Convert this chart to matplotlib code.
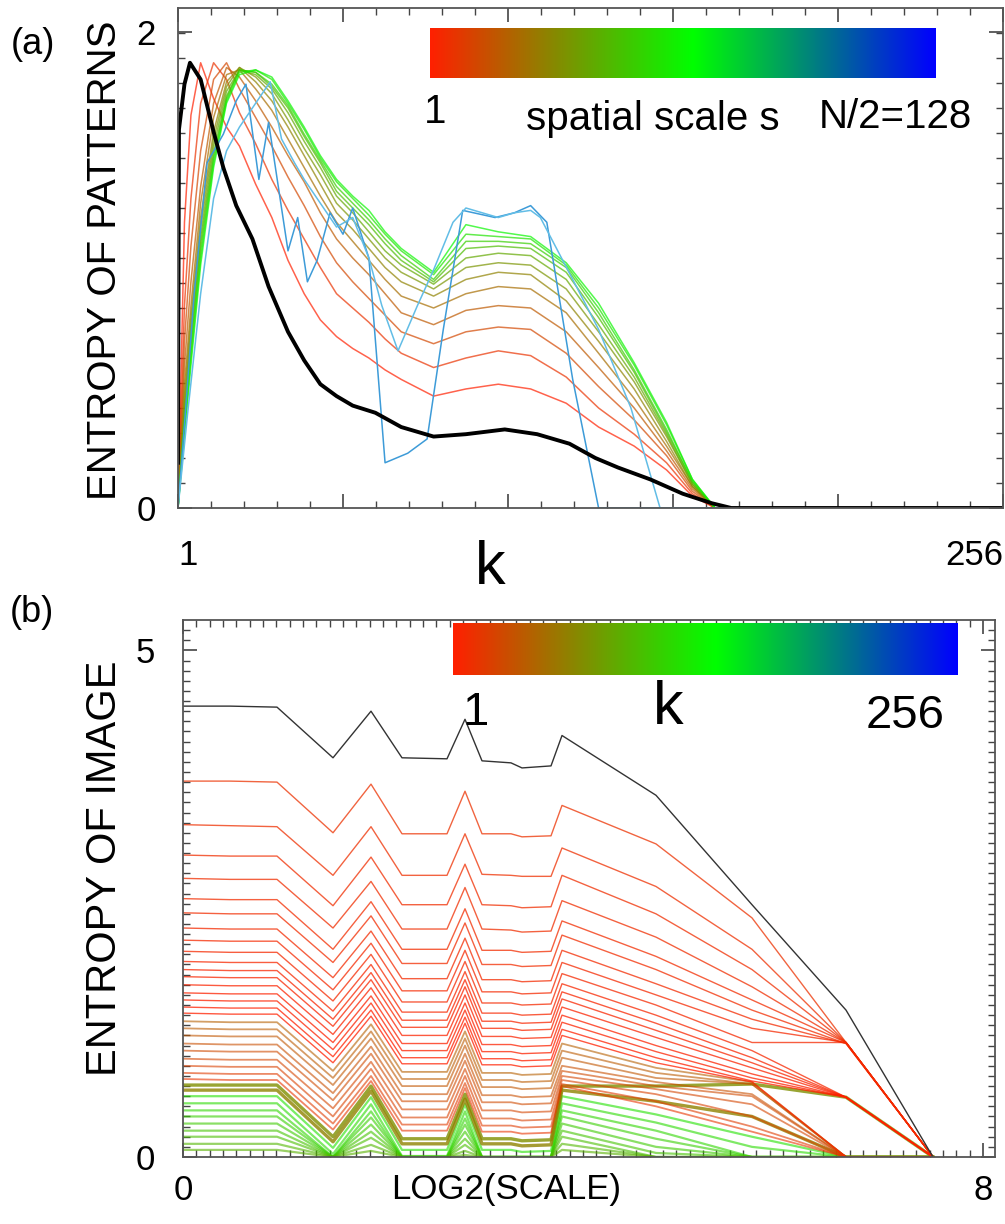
import numpy as np
import matplotlib
matplotlib.use("Agg")
import matplotlib.pyplot as plt
from matplotlib.colors import LinearSegmentedColormap
from matplotlib.ticker import FixedLocator, FixedFormatter

plt.rcParams['font.family'] = ['Liberation Sans', 'DejaVu Sans']

W, H = 1005, 1224

# ---------------- panel (a): entropy of patterns vs k ----------------
k_black = [1, 1.3, 3, 4.7, 8, 12, 15, 19, 24, 29, 35, 40, 45, 50, 55, 62, 70, 80, 90,
           102, 112, 122, 130, 137, 147, 157, 166, 172, 256]
h_black = [0.19, 1.59, 1.78, 1.87, 1.80, 1.58, 1.43, 1.27, 1.13, 0.93, 0.74, 0.62, 0.52,
           0.47, 0.43, 0.40, 0.34, 0.30, 0.31, 0.33, 0.31, 0.27, 0.21, 0.17, 0.12, 0.06,
           0.02, 0.0, 0.0]

k_family = [1, 3, 5, 8, 12, 16, 20, 25, 30, 35, 40, 45, 50, 55, 60, 65, 70, 80, 90, 100,
            110, 121, 131, 142, 152, 160, 167, 256]
h_s01 = [0, 1.20, 1.65, 1.87, 1.72, 1.60, 1.52, 1.36, 1.22, 1.04, 0.90, 0.79, 0.72, 0.67, 0.63, 0.58, 0.54, 0.47, 0.50, 0.52, 0.50, 0.44, 0.34, 0.26, 0.16, 0.05, 0, 0]
h_s02 = [0, 0.85, 1.30, 1.70, 1.87, 1.80, 1.66, 1.53, 1.38, 1.25, 1.13, 1.01, 0.90, 0.84, 0.78, 0.71, 0.65, 0.59, 0.63, 0.66, 0.64, 0.55, 0.42, 0.31, 0.19, 0.06, 0, 0]
h_s03 = [0, 0.70, 1.10, 1.50, 1.80, 1.87, 1.76, 1.64, 1.52, 1.39, 1.27, 1.14, 1.03, 0.95, 0.88, 0.81, 0.74, 0.69, 0.74, 0.76, 0.75, 0.65, 0.51, 0.37, 0.22, 0.07, 0, 0]
h_s04 = [0, 0.60, 0.95, 1.35, 1.70, 1.85, 1.81, 1.71, 1.60, 1.48, 1.37, 1.24, 1.13, 1.05, 0.98, 0.90, 0.82, 0.77, 0.83, 0.85, 0.84, 0.74, 0.59, 0.42, 0.24, 0.08, 0, 0]
h_s05 = [0, 0.52, 0.85, 1.28, 1.64, 1.82, 1.84, 1.76, 1.67, 1.55, 1.43, 1.31, 1.20, 1.12, 1.04, 0.96, 0.89, 0.84, 0.90, 0.93, 0.92, 0.82, 0.65, 0.46, 0.26, 0.09, 0, 0]
h_s06 = [0, 0.47, 0.80, 1.22, 1.58, 1.79, 1.85, 1.79, 1.71, 1.60, 1.48, 1.36, 1.24, 1.17, 1.09, 1.01, 0.95, 0.89, 0.96, 0.99, 0.98, 0.87, 0.70, 0.50, 0.28, 0.09, 0, 0]
h_s07 = [0, 0.43, 0.76, 1.18, 1.55, 1.77, 1.85, 1.81, 1.74, 1.63, 1.51, 1.40, 1.28, 1.21, 1.13, 1.05, 0.99, 0.92, 1.01, 1.03, 1.02, 0.92, 0.74, 0.53, 0.30, 0.10, 0, 0]
h_s08 = [0, 0.40, 0.72, 1.14, 1.52, 1.75, 1.84, 1.82, 1.76, 1.66, 1.54, 1.43, 1.31, 1.24, 1.16, 1.08, 1.02, 0.94, 1.05, 1.07, 1.06, 0.96, 0.77, 0.55, 0.31, 0.10, 0, 0]
h_s09 = [0, 0.37, 0.69, 1.11, 1.49, 1.73, 1.84, 1.83, 1.77, 1.68, 1.56, 1.45, 1.33, 1.26, 1.19, 1.11, 1.04, 0.95, 1.09, 1.10, 1.09, 0.99, 0.80, 0.57, 0.32, 0.11, 0, 0]
h_s10 = [0, 0.35, 0.66, 1.08, 1.47, 1.72, 1.84, 1.83, 1.78, 1.69, 1.57, 1.46, 1.35, 1.28, 1.21, 1.13, 1.06, 0.96, 1.12, 1.12, 1.11, 1.01, 0.82, 0.58, 0.33, 0.11, 0, 0]
h_s11 = [0, 0.33, 0.63, 1.05, 1.45, 1.71, 1.83, 1.84, 1.80, 1.70, 1.59, 1.47, 1.37, 1.30, 1.23, 1.15, 1.08, 0.98, 1.15, 1.14, 1.13, 1.02, 0.84, 0.60, 0.35, 0.12, 0, 0]
h_s12 = [0, 0.30, 0.60, 1.02, 1.43, 1.70, 1.82, 1.84, 1.81, 1.71, 1.60, 1.48, 1.38, 1.31, 1.25, 1.16, 1.09, 0.99, 1.19, 1.16, 1.14, 1.03, 0.86, 0.61, 0.36, 0.12, 0, 0]

k_blue1 = [1, 3, 6, 10, 15, 19, 22, 26, 29, 35, 38, 41, 44, 48, 52, 55, 60, 65, 72, 78,
           83, 89, 99, 105, 110, 115, 123, 131, 256]
h_blue1 = [0, 0.35, 0.90, 1.45, 1.57, 1.71, 1.78, 1.38, 1.62, 1.08, 1.22, 0.95, 1.04, 1.24,
           1.15, 1.26, 1.05, 0.19, 0.23, 0.29, 0.75, 1.25, 1.22, 1.24, 1.27, 1.20, 0.54, 0.0, 0.0]
k_blue2 = [1, 4, 8, 12, 16, 20, 25, 29.5, 33, 37, 40, 45, 50, 55, 60, 64, 69, 75, 80, 86,
           90, 95, 100, 105, 110, 113, 123, 131, 141, 150, 256]
h_blue2 = [0, 0.40, 0.90, 1.30, 1.50, 1.60, 1.70, 1.79, 1.55, 1.45, 1.38, 1.28, 1.18, 1.22,
           1.05, 0.85, 0.66, 0.85, 1.00, 1.20, 1.26, 1.24, 1.22, 1.24, 1.25, 1.22, 0.96, 0.75,
           0.42, 0.0, 0.0]

# ---------------- panel (b): entropy of image vs log2(scale) ----------------
x_log2scale = [0, 0.47, 0.94, 1.50, 1.88, 2.19, 2.64, 2.82, 2.99, 3.28, 3.39, 3.68, 3.79,
               4.73, 5.69, 6.63, 7.50]
h_image_total = [4.45, 4.45, 4.44, 3.94, 4.40, 3.94, 3.93, 4.32, 3.91, 3.89, 3.84, 3.86,
                 4.16, 3.57, 2.49, 1.45, 0.0]
h_image_red = [
    [3.71, 3.71, 3.70, 3.20, 3.68, 3.19, 3.19, 3.61, 3.19, 3.19, 3.16, 3.17, 3.47, 3.09, 2.36, 1.13, 0],
    [3.28, 3.27, 3.26, 2.78, 3.26, 2.78, 2.78, 3.19, 2.79, 2.78, 2.77, 2.77, 3.05, 2.67, 2.05, 1.13, 0],
    [2.98, 2.97, 2.97, 2.48, 2.96, 2.49, 2.49, 2.89, 2.49, 2.48, 2.46, 2.47, 2.78, 2.40, 1.85, 1.13, 0],
    [2.75, 2.74, 2.74, 2.26, 2.72, 2.25, 2.25, 2.66, 2.25, 2.24, 2.22, 2.23, 2.53, 2.17, 1.68, 1.13, 0],
    [2.55, 2.54, 2.54, 2.05, 2.52, 2.05, 2.05, 2.45, 2.04, 2.04, 2.02, 2.03, 2.33, 1.98, 1.55, 1.13, 0],
    [2.41, 2.40, 2.40, 1.92, 2.38, 1.91, 1.91, 2.31, 1.90, 1.90, 1.88, 1.89, 2.19, 1.85, 1.45, 1.12, 0],
    [2.26, 2.25, 2.25, 1.77, 2.23, 1.76, 1.76, 2.16, 1.75, 1.75, 1.73, 1.74, 2.04, 1.71, 1.36, 1.12, 0],
    [2.14, 2.13, 2.13, 1.65, 2.11, 1.64, 1.64, 2.04, 1.63, 1.63, 1.61, 1.62, 1.92, 1.60, 1.27, 1.13, 0],
    [2.03, 2.02, 2.02, 1.54, 2.00, 1.53, 1.53, 1.93, 1.52, 1.52, 1.50, 1.51, 1.81, 1.50, 1.13, 1.13, 0],
    [1.93, 1.92, 1.92, 1.44, 1.90, 1.43, 1.43, 1.83, 1.42, 1.42, 1.40, 1.41, 1.71, 1.40, 1.05, 0.59, 0],
    [1.85, 1.84, 1.84, 1.36, 1.82, 1.35, 1.35, 1.75, 1.34, 1.34, 1.32, 1.33, 1.63, 1.32, 0.98, 0.59, 0],
    [1.78, 1.77, 1.77, 1.29, 1.75, 1.28, 1.28, 1.68, 1.27, 1.27, 1.25, 1.26, 1.56, 1.25, 0.93, 0.59, 0],
    [1.70, 1.69, 1.69, 1.21, 1.67, 1.20, 1.20, 1.60, 1.19, 1.19, 1.17, 1.18, 1.48, 1.18, 0.88, 0.59, 0],
    [1.62, 1.61, 1.61, 1.13, 1.59, 1.12, 1.12, 1.52, 1.11, 1.11, 1.09, 1.10, 1.40, 1.10, 0.82, 0.59, 0],
    [1.55, 1.54, 1.54, 1.06, 1.52, 1.05, 1.05, 1.45, 1.04, 1.04, 1.02, 1.03, 1.33, 1.04, 0.78, 0.59, 0],
    [1.48, 1.47, 1.47, 0.99, 1.45, 0.98, 0.98, 1.38, 0.97, 0.97, 0.95, 0.96, 1.26, 0.98, 0.75, 0.59, 0],
    [1.42, 1.41, 1.41, 0.93, 1.39, 0.92, 0.92, 1.32, 0.91, 0.91, 0.89, 0.90, 1.20, 0.93, 0.74, 0.00, 0],
]
h_image_orange = [
    [1.34, 1.33, 1.33, 0.85, 1.31, 0.84, 0.84, 1.24, 0.83, 0.83, 0.81, 0.82, 1.12, 0.88, 0.74, 0, 0],
    [1.27, 1.26, 1.26, 0.78, 1.24, 0.77, 0.77, 1.17, 0.76, 0.76, 0.74, 0.75, 1.05, 0.83, 0.72, 0, 0],
    [1.20, 1.19, 1.19, 0.71, 1.17, 0.70, 0.70, 1.10, 0.69, 0.69, 0.67, 0.68, 0.98, 0.78, 0.72, 0, 0],
    [1.12, 1.11, 1.11, 0.63, 1.09, 0.62, 0.62, 1.02, 0.61, 0.61, 0.59, 0.60, 0.90, 0.74, 0.62, 0, 0],
    [1.05, 1.04, 1.04, 0.56, 1.02, 0.55, 0.55, 0.95, 0.54, 0.54, 0.52, 0.53, 0.85, 0.70, 0.60, 0, 0],
    [0.97, 0.96, 0.96, 0.48, 0.94, 0.47, 0.47, 0.87, 0.46, 0.46, 0.44, 0.45, 0.80, 0.67, 0.52, 0, 0],
    [0.90, 0.89, 0.89, 0.40, 0.87, 0.39, 0.39, 0.80, 0.38, 0.38, 0.36, 0.37, 0.76, 0.62, 0.40, 0, 0],
    [0.83, 0.82, 0.82, 0.33, 0.80, 0.32, 0.32, 0.73, 0.31, 0.31, 0.29, 0.30, 0.72, 0.55, 0.30, 0, 0],
    [0.77, 0.76, 0.76, 0.27, 0.75, 0.26, 0.26, 0.68, 0.25, 0.25, 0.23, 0.24, 0.70, 0.50, 0.25, 0, 0],
]
h_image_olive = [
    [0.71, 0.71, 0.71, 0.20, 0.70, 0.18, 0.18, 0.62, 0.18, 0.18, 0.16, 0.17, 0.70, 0.70, 0.72, 0.59, 0],
    [0.66, 0.66, 0.66, 0.15, 0.65, 0.13, 0.13, 0.57, 0.13, 0.13, 0.11, 0.12, 0.66, 0.55, 0.40, 0, 0],
]
h_image_green = [
    [0.60, 0.60, 0.60, 0.09, 0.59, 0.07, 0.07, 0.52, 0.07, 0.07, 0.05, 0.06, 0.60, 0.42, 0.20, 0, 0],
    [0.53, 0.53, 0.53, 0.03, 0.52, 0.01, 0.01, 0.45, 0, 0, 0, 0, 0.53, 0.34, 0.10, 0, 0],
    [0.46, 0.46, 0.46, 0, 0.45, 0, 0, 0.38, 0, 0, 0, 0, 0.46, 0.26, 0, 0, 0],
    [0.40, 0.40, 0.40, 0, 0.39, 0, 0, 0.32, 0, 0, 0, 0, 0.40, 0.18, 0, 0, 0],
    [0.33, 0.33, 0.33, 0, 0.32, 0, 0, 0.25, 0, 0, 0, 0, 0.33, 0.10, 0, 0, 0],
    [0.26, 0.26, 0.26, 0, 0.25, 0, 0, 0.18, 0, 0, 0, 0, 0.26, 0.04, 0, 0, 0],
    [0.20, 0.20, 0.20, 0, 0.19, 0, 0, 0.12, 0, 0, 0, 0, 0.20, 0, 0, 0, 0],
    [0.13, 0.13, 0.13, 0, 0.12, 0, 0, 0.06, 0, 0, 0, 0, 0.13, 0, 0, 0, 0],
    [0.07, 0.07, 0.07, 0, 0.06, 0, 0, 0.02, 0, 0, 0, 0, 0.07, 0, 0, 0, 0],
]

# ---------------- drawing ----------------
cmap = LinearSegmentedColormap.from_list(
    'rgb_scale', [(0.0, '#ff2000'), (0.52, '#00ff00'), (1.0, '#0000ff')])
tick_col = '#444444'


def px_box(left, top, right, bottom):
    return [left / W, 1 - bottom / H, (right - left) / W, (bottom - top) / H]


def ftext(x, y, s, **kw):
    fig.text(x / W, 1 - y / H, s, **kw)


fig = plt.figure(figsize=(W / 100, H / 100), dpi=100)

# ---- panel (a)
ax1 = fig.add_axes(px_box(178, 8, 1003, 508))
family = [h_s01, h_s02, h_s03, h_s04, h_s05, h_s06, h_s07, h_s08, h_s09, h_s10, h_s11, h_s12]
fam_pos = np.linspace(0.0, 0.50, len(family))
for h, p in zip(family, fam_pos):
    ax1.plot(k_family, h, color=cmap(p), lw=1.1, alpha=0.7)
ax1.plot(k_blue1, h_blue1, color='#3d9bd8', lw=1.1)
ax1.plot(k_blue2, h_blue2, color='#62bde6', lw=1.1)
ax1.plot(k_black, h_black, color='black', lw=2.8)
ax1.set_xlim(1, 256)
ax1.set_ylim(0, 2.1)
ax1.xaxis.set_major_locator(FixedLocator([1, 52, 103, 154, 205, 256]))
ax1.xaxis.set_major_formatter(FixedFormatter(['1', '', '', '', '', '256']))
ax1.xaxis.set_minor_locator(FixedLocator(np.arange(1, 257, 10.2)))
ax1.yaxis.set_major_locator(FixedLocator([0, 2]))
ax1.yaxis.set_major_formatter(FixedFormatter(['0', '2']))
ax1.yaxis.set_minor_locator(FixedLocator(np.arange(0, 2.1, 0.105)))
ax1.tick_params(axis='x', which='major', labelsize=25, pad=22)
ax1.tick_params(axis='y', which='major', labelsize=25, pad=16)
ax1.set_ylabel('ENTROPY OF PATTERNS', fontsize=29, va='center')
ax1.yaxis.set_label_coords((105 - 178) / 825, 0.496)
ax1.set_xlabel('k', fontsize=44, va='center')
ax1.xaxis.set_label_coords((490 - 178) / 825, (508 - 568) / 500)
xt = ax1.get_xticklabels()
xt[0].set_ha('left')
xt[-1].set_ha('right')

cax1 = fig.add_axes(px_box(430, 28, 935, 78))
cax1.imshow(np.linspace(0, 1, 256)[None, :], aspect='auto', cmap=cmap, extent=[0, 1, 0, 1])
cax1.set_axis_off()
ftext(435, 123, '1', ha='center', va='baseline', fontsize=29)
ftext(653, 130, 'spatial scale s', ha='center', va='baseline', fontsize=29)
ftext(895, 128, 'N/2=128', ha='center', va='baseline', fontsize=29)
ftext(33, 45, '(a)', ha='center', va='center', fontsize=26)

# ---- panel (b)
ax2 = fig.add_axes(px_box(183, 620, 995, 1157))
groups = [(h_image_green, np.linspace(0.34, 0.45, len(h_image_green))[::-1], 1.6, 0.6),
          (h_image_olive, [0.26, 0.23], 2.4, 0.8),
          (h_image_orange, np.linspace(0.15, 0.05, len(h_image_orange)), 1.3, 0.6),
          (h_image_red, np.linspace(0.04, 0.0, len(h_image_red)), 1.0, 0.75)]
for rows, pos, lw, al in groups:
    for h, p in zip(rows, pos):
        ax2.plot(x_log2scale, h, color=cmap(p), lw=lw, alpha=al)
ax2.plot(x_log2scale, h_image_total, color='#333333', lw=1.0)
ax2.set_xlim(0, 8.12)
ax2.set_ylim(0, 5.3)
ax2.xaxis.set_major_locator(FixedLocator([0, 8]))
ax2.xaxis.set_major_formatter(FixedFormatter(['0', '8']))
ax2.xaxis.set_minor_locator(FixedLocator(np.arange(0, 8.12, 8 / 60)))
ax2.yaxis.set_major_locator(FixedLocator([0, 5]))
ax2.yaxis.set_major_formatter(FixedFormatter(['0', '5']))
ax2.yaxis.set_minor_locator(FixedLocator(np.arange(0, 5.3, 0.1)))
ax2.tick_params(axis='x', which='major', labelsize=25, pad=12)
ax2.tick_params(axis='y', which='major', labelsize=25, pad=20)
ax2.set_ylabel('ENTROPY OF IMAGE', fontsize=30, va='center')
ax2.yaxis.set_label_coords((105 - 183) / 812, (1157 - 868) / 537)
ax2.set_xlabel('LOG2(SCALE)', fontsize=25, va='center')
ax2.xaxis.set_label_coords((506 - 183) / 812, (1157 - 1190) / 537)

cax2 = fig.add_axes(px_box(453, 623, 957, 675))
cax2.imshow(np.linspace(0, 1, 256)[None, :], aspect='auto', cmap=cmap, extent=[0, 1, 0, 1])
cax2.set_axis_off()
ftext(475, 713, '1', ha='center', va='center', fontsize=34)
ftext(668, 708, 'k', ha='center', va='center', fontsize=44)
ftext(905, 716, '256', ha='center', va='center', fontsize=34)
ftext(32, 612, '(b)', ha='center', va='center', fontsize=26)

for ax in (ax1, ax2):
    ax.tick_params(which='both', direction='in', top=True, right=True, color=tick_col)
    ax.tick_params(which='major', length=10, width=1.2)
    ax.tick_params(which='minor', length=5, width=1.0)
    for sp in ax.spines.values():
        sp.set_color('#555555')
        sp.set_linewidth(1.3)

fig.savefig('out.png', dpi=100)
